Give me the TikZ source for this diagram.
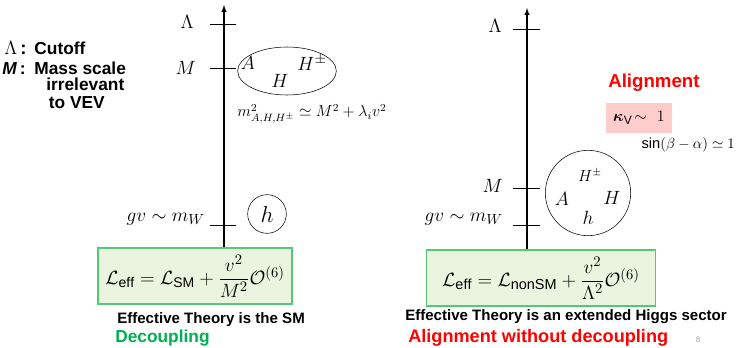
\documentclass[tikz,border=0pt]{standalone}
\usepackage{fontspec}
\setsansfont{Liberation Sans}
\usepackage{amsmath,amssymb}
\usetikzlibrary{shapes.geometric}
\definecolor{boxGreen}{HTML}{55C878}
\definecolor{boxFill}{HTML}{EBF4DE}
\definecolor{txtGreen}{HTML}{00B050}
\definecolor{txtRed}{HTML}{FF0000}
\definecolor{boxPink}{HTML}{FFCCCC}
\tikzset{
  scaleaxis/.style={->, >=latex, thick},
  scaletick/.style={semithick},
  efftbox/.style={draw=boxGreen, fill=boxFill, thick, minimum width=145.5pt, minimum height=42pt, inner sep=0pt},
  boldlabel/.style={font=\sffamily\bfseries\fontsize{11.3}{13}\selectfont, inner sep=0pt},
  legendlabel/.style={font=\sffamily\bfseries\fontsize{13}{15}\selectfont, inner sep=0pt},
  scalelabel/.style={font=\fontsize{14}{16}\selectfont, inner sep=0pt},
  particle/.style={font=\fontsize{15}{17}\selectfont, inner sep=0pt}
}
\begin{document}
\begin{tikzpicture}[x=0.75pt, y=-0.75pt]
    \useasboundingbox (0,0) rectangle (738,347);
    % Left: decoupling picture
    \coordinate (lbot) at (224,248);
    \coordinate (ltop) at (224,5);
    \draw[scaleaxis] (lbot) -- (ltop);
    \foreach \yy/\nm in {24/lLam, 68/lM, 225/lW} {
      \coordinate (\nm-a) at (210,\yy);
      \coordinate (\nm-b) at (236,\yy);
      \draw[scaletick] (\nm-a) -- (\nm-b);
    }
    \node[scalelabel, anchor=east] (lLamlab) at (194,22) {$\Lambda$};
    \node[scalelabel, anchor=east] (lMlab) at (196,68) {$M$};
    \node[scalelabel, anchor=east, font=\fontsize{15.5}{17}\selectfont] (lWlab) at (205,219) {$gv\sim m_W$};
    % Heavy states and light Higgs
    \node[draw, ellipse, minimum width=74pt, minimum height=36pt, inner sep=0pt] (heavyL) at (287,71) {};
    \node[particle] (lA) at (248,63) {$A$};
    \node[particle] (lH) at (280,81) {$H$};
    \node[particle] (lHpm) at (312,63) {$H^{\pm}$};
    \node[inner sep=0pt, font=\fontsize{11.7}{13}\selectfont] (massrel) at (312,114) {$m^2_{A,H,H^{\pm}}\simeq M^2+\lambda_i v^2$};
    \node[draw, circle, minimum size=29pt, inner sep=0pt, font=\fontsize{19}{21}\selectfont] (lh) at (267,214) {$h$};
    % Legend
    \node[legendlabel, anchor=west] (legLam) at (4,48) {\makebox[19pt][l]{\fontsize{14}{16}\selectfont$\Lambda$\,:}\ Cutoff};
    \node[legendlabel, anchor=west] (legM) at (2,68) {\makebox[20.5pt][l]{\textit{M}\,:}\ Mass scale};
    \node[legendlabel, anchor=north west, align=left] (legM2) at (46,78) {irrelevant\\[-2pt]\hspace{2pt}to VEV};
    % Effective theory
    \node[efftbox] (effL) at (195,276) {\fontsize{15}{18}\selectfont$\mathcal{L}_{\mathsf{eff}}=\mathcal{L}_{\mathsf{SM}}+\dfrac{v^2}{M^2}\mathcal{O}^{(6)}$};
    \node[boldlabel, anchor=west] (effLtxt) at (117,320) {Effective Theory is the SM};
    \node[anchor=west, text=txtGreen, font=\sffamily\bfseries\fontsize{13}{15}\selectfont, inner sep=0pt] (decL) at (115,338) {Decoupling};
    % Right: alignment without decoupling
    \coordinate (rbot) at (527,250);
    \coordinate (rtop) at (527,8);
    \draw[scaleaxis] (rbot) -- (rtop);
    \foreach \yy/\nm in {29/rLam, 188/rM, 225/rW} {
      \coordinate (\nm-a) at (513,\yy);
      \coordinate (\nm-b) at (540,\yy);
      \draw[scaletick] (\nm-a) -- (\nm-b);
    }
    \node[scalelabel, anchor=east] (rLamlab) at (502,26) {$\Lambda$};
    \node[scalelabel, anchor=east] (rMlab) at (503,186) {$M$};
    \node[scalelabel, anchor=east, font=\fontsize{15.5}{17}\selectfont] (rWlab) at (503,219) {$gv\sim m_W$};
    \node[draw, circle, minimum size=64pt, inner sep=0pt] (sector) at (588,193) {};
    \node[font=\fontsize{12}{14}\selectfont, inner sep=0pt] (rHpm) at (590,175) {$H^{\pm}$};
    \node[font=\fontsize{13.5}{15}\selectfont, inner sep=0pt] (rA) at (562,199) {$A$};
    \node[font=\fontsize{13.5}{15}\selectfont, inner sep=0pt] (rH) at (612,198) {$H$};
    \node[font=\fontsize{14}{16}\selectfont, inner sep=0pt] (rh) at (588,218) {$h$};
    \node[anchor=west, text=txtRed, font=\sffamily\bfseries\fontsize{14}{16}\selectfont, inner sep=0pt] (align) at (608,83) {Alignment};
    \node[fill=boxPink, minimum width=50pt, minimum height=22pt, inner sep=0pt] (kappa) at (639,118) {\fontsize{13}{15}\selectfont$\boldsymbol{\kappa}_{\mathsf{V}}\!\sim\ 1$};
    \node[anchor=east, inner sep=0pt, font=\fontsize{11}{13}\selectfont] (sinba) at (735,145) {\textsf{sin}$(\beta-\alpha)\simeq 1$};
    \node[efftbox, minimum width=171.5pt] (effR) at (541,278) {\fontsize{15.5}{18}\selectfont$\mathcal{L}_{\mathsf{eff}}=\mathcal{L}_{\mathsf{nonSM}}+\dfrac{v^2}{\Lambda^2}\mathcal{O}^{(6)}$};
    \node[boldlabel, anchor=west] (effRtxt) at (405,317) {Effective Theory is an extended Higgs sector};
    \node[anchor=west, text=txtRed, font=\sffamily\bfseries\fontsize{13.6}{15}\selectfont, inner sep=0pt] (alignR) at (408,338) {Alignment without decoupling};
    \node[text=gray!70, font=\sffamily\fontsize{6}{7}\selectfont, inner sep=0pt] (pagenum) at (698,340) {8};
  \end{tikzpicture}
\end{document}
